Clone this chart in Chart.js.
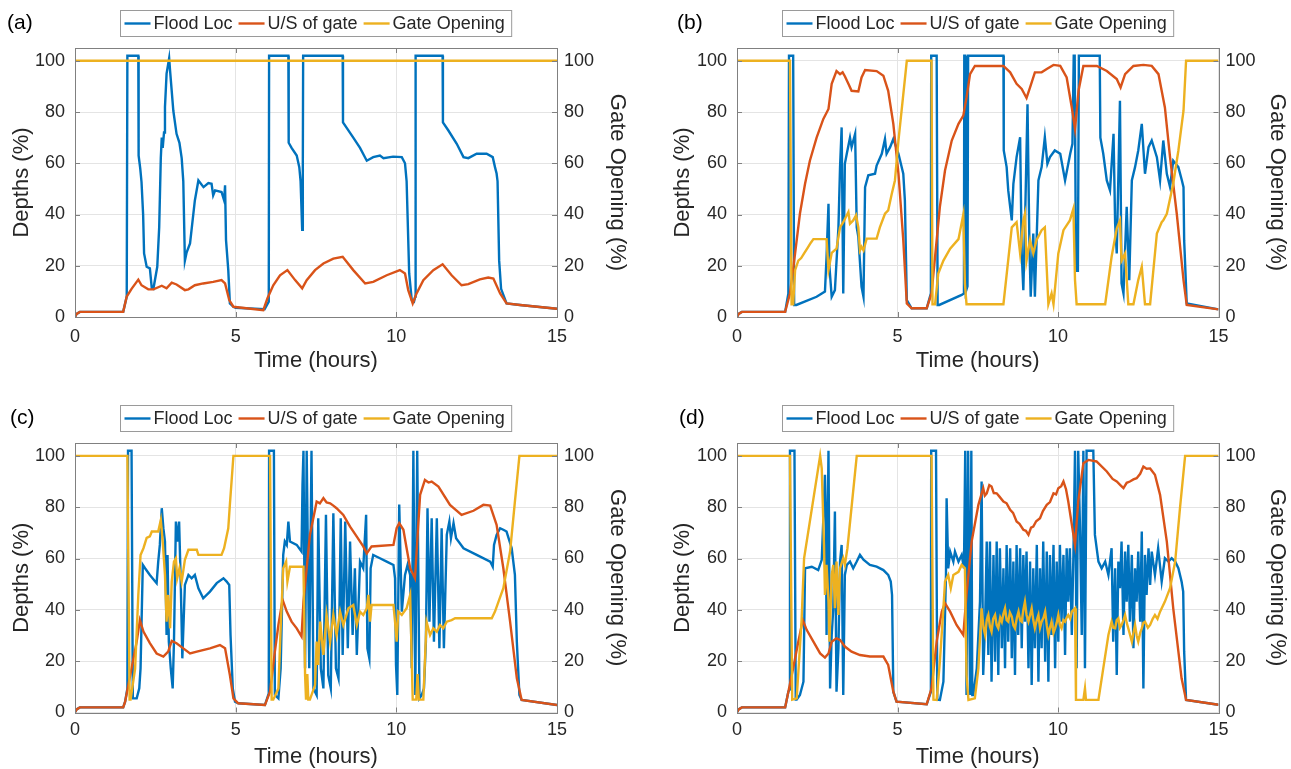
<!DOCTYPE html>
<html><head><meta charset="utf-8">
<script src="https://cdn.jsdelivr.net/npm/chart.js@4.4.0/dist/chart.umd.min.js"></script>
<style>
html,body{margin:0;padding:0;background:#fff;}
#wrap{position:relative;width:1291px;height:769px;overflow:hidden;background:#fff;}
canvas{position:absolute;display:block;}
</style></head><body>
<div id="wrap">
<canvas id="ca" width="645" height="390" style="left:0;top:0"></canvas>
<canvas id="cb" width="646" height="390" style="left:645px;top:0"></canvas>
<canvas id="cc" width="645" height="379" style="left:0;top:390px"></canvas>
<canvas id="cd" width="646" height="379" style="left:645px;top:390px"></canvas>
</div>
<script>
// ---------- tick labels / names ----------
const xTicks = [0, 5, 10, 15];
const yTicks = [0, 20, 40, 60, 80, 100];
const seriesNames = ['Flood Loc', 'U/S of gate', 'Gate Opening'];
const panelLabels = ['(a)', '(b)', '(c)', '(d)'];

// ---------- panel (a) ----------
const aFlood = [[0,0],[0.05,1.2],[0.15,2],[1.5,2],[1.61,8],[1.63,102],[1.97,102],[1.98,63],[2.03,58],[2.07,52.7],[2.12,40],[2.15,24.8],[2.23,19.6],[2.33,19],[2.39,11.2],[2.44,11],[2.56,19.6],[2.62,35],[2.67,62],[2.70,70],[2.73,66],[2.77,72],[2.80,82],[2.85,95],[2.93,101],[2.96,96],[3.06,80.5],[3.16,71.5],[3.25,68],[3.32,62],[3.37,53],[3.42,22],[3.47,25],[3.58,28.7],[3.73,45.5],[3.84,53.3],[4.0,50.7],[4.15,52.3],[4.25,52],[4.30,47.5],[4.36,49.4],[4.56,48.8],[4.64,45.5],[4.67,51.4],[4.70,30],[4.77,18.3],[4.82,5.3],[4.93,4],[5.0,3.6],[5.9,3],[6.03,6],[6.04,102],[6.64,102],[6.65,68],[6.74,66],[6.90,63],[6.98,58.5],[7.02,53],[7.07,34],[7.09,60],[7.10,102],[8.33,102],[8.34,76],[8.66,70],[8.87,66],[9.08,61],[9.28,62.4],[9.49,63],[9.6,62],[9.9,62.6],[10.17,62.4],[10.27,60],[10.32,53],[10.40,17],[10.48,6.6],[10.55,6],[10.59,8],[10.60,102],[11.44,102],[11.45,76],[11.62,72.8],[11.88,67.6],[12.09,62.4],[12.24,62],[12.5,63.7],[12.81,63.7],[13.0,62.4],[13.07,58.5],[13.12,56],[13.15,53],[13.2,22],[13.26,11],[13.43,5.3],[13.85,4.7],[15,3.2]];
const aUS = [[0,0],[0.05,1.2],[0.15,2],[1.5,2],[1.61,8],[1.76,11],[1.97,14.6],[2.07,12.4],[2.28,10.8],[2.44,10.8],[2.70,12.2],[2.85,11.2],[3.01,13.4],[3.16,12.7],[3.42,10.5],[3.53,10.8],[3.73,12.4],[3.99,13.1],[4.30,13.7],[4.56,14.4],[4.67,13.1],[4.80,6.6],[4.93,4],[5.86,2.7],[5.99,7.3],[6.17,12.4],[6.38,16.3],[6.61,18.3],[6.85,14.4],[7.07,11.2],[7.21,14.4],[7.47,18.3],[7.73,20.9],[8.04,22.8],[8.33,23.5],[8.66,18.3],[9.03,13.1],[9.28,13.7],[9.70,16.3],[10.11,18.3],[10.27,17],[10.37,10.5],[10.51,5.3],[10.63,9.2],[10.84,14.4],[11.15,18.3],[11.44,20.6],[11.72,16.3],[12.03,12.4],[12.24,12.8],[12.60,14.7],[12.86,15.4],[13.02,15],[13.23,9.2],[13.43,5.3],[13.85,4.7],[15,3.2]];
const aGate = [[0,100],[15,100]];

// ---------- panel (b) ----------
const bFlood = [[0,0],[0.05,1.2],[0.15,2],[1.5,2],[1.6,9.2],[1.62,102],[1.75,102],[1.78,4.7],[1.85,4.7],[2.48,7.9],[2.74,9.9],[2.79,23.5],[2.85,44.2],[2.88,19.6],[2.95,7.9],[3.05,10.5],[3.16,35],[3.21,58.5],[3.26,74],[3.31,9.2],[3.36,59.8],[3.42,63.7],[3.52,70],[3.57,66.3],[3.68,71.5],[3.73,35],[3.78,31.3],[3.88,11.8],[3.94,7.9],[3.99,50.7],[4.09,55.3],[4.30,55.9],[4.35,59.1],[4.51,63.7],[4.61,69.5],[4.66,63.7],[4.77,66.3],[4.87,69.5],[5.03,63.7],[5.18,55.9],[5.23,45.5],[5.29,6.6],[5.44,3.4],[5.91,3.4],[6.04,9.2],[6.05,102],[6.22,102],[6.25,4.7],[6.30,4.7],[7.0,8.6],[7.07,9.2],[7.08,102],[7.11,102],[7.13,10],[7.18,12],[7.2,102],[8.30,102],[8.31,65],[8.40,58.5],[8.45,49.4],[8.51,43],[8.56,37.7],[8.61,52],[8.71,62.4],[8.82,70.2],[8.87,24.8],[8.92,10.5],[8.97,35],[9.05,83],[9.11,27.4],[9.15,7.9],[9.23,32.6],[9.28,7.9],[9.39,53.3],[9.49,58.5],[9.59,70.2],[9.67,59.8],[9.75,62.4],[9.90,65],[10.07,63.7],[10.22,53.3],[10.38,63.7],[10.45,67.6],[10.49,102],[10.52,102],[10.56,18],[10.62,18],[10.65,102],[11.30,102],[11.32,70],[11.41,63.7],[11.52,53.3],[11.62,49.4],[11.73,71.5],[11.78,36.4],[11.83,24.8],[11.93,84.4],[11.98,13.1],[12.04,9.2],[12.14,43],[12.22,14.4],[12.30,53.3],[12.40,58.5],[12.50,65],[12.61,75.4],[12.71,55.9],[12.82,66.3],[12.92,68.9],[13.08,62.4],[13.18,53.3],[13.28,68.9],[13.39,55.9],[13.49,50.7],[13.59,61],[13.75,58.5],[13.86,53.3],[13.91,50.7],[13.93,30],[14.01,5.3],[15,3]];
const bUS = [[0,0],[0.05,1.2],[0.15,2],[1.5,2],[1.65,9.2],[1.81,24.8],[1.96,40.3],[2.12,52],[2.27,61],[2.48,70],[2.69,77.3],[2.85,81.2],[2.95,91],[3.1,96],[3.21,94.8],[3.29,95.5],[3.36,94],[3.47,91],[3.57,88.3],[3.78,88],[3.88,93.5],[3.99,96.4],[4.35,96],[4.56,94.2],[4.71,88.3],[4.87,75.4],[5.03,56],[5.18,30],[5.29,5.3],[5.44,3.4],[5.91,3.4],[6.06,9.2],[6.17,23.5],[6.32,43],[6.48,57.2],[6.69,68.9],[6.90,75.4],[7.05,78.6],[7.15,85.7],[7.26,94.8],[7.41,98],[8.30,98],[8.51,95.5],[8.71,91],[8.87,89],[9.02,85.5],[9.13,89.6],[9.28,95.5],[9.49,95.5],[9.65,96.8],[9.86,98.4],[10.07,98],[10.27,93.5],[10.43,81.8],[10.53,73.4],[10.64,88.3],[10.79,98],[11.21,98],[11.52,96],[11.83,92.9],[11.95,89.6],[12.09,94.8],[12.35,98],[12.66,98.4],[12.92,98],[13.13,94.8],[13.33,81.8],[13.49,62.4],[13.70,40.3],[13.91,14.4],[14.01,4.7],[15,3]];
const bGate = [[0,100],[1.65,100],[1.7,5],[1.75,5],[1.81,18.3],[1.91,22],[2.0,23],[2.1,25],[2.2,27],[2.3,29],[2.38,30.4],[2.79,30.4],[2.85,18.3],[2.95,25],[3.1,26.7],[3.21,35],[3.31,37],[3.47,41],[3.52,36.4],[3.62,37.7],[3.71,39.7],[3.78,35],[3.83,26],[3.88,27.4],[3.94,26],[4.04,30.6],[4.35,30.6],[4.45,35],[4.61,40.3],[4.71,41.6],[4.82,48],[4.92,53.3],[5.03,68.9],[5.29,100],[6.06,100],[6.09,5],[6.17,5],[6.27,17],[6.43,22],[6.64,26.7],[6.90,30.4],[7.05,40],[7.1,13],[7.15,5],[8.30,5],[8.56,35],[8.71,37],[8.82,24.8],[8.92,37.7],[8.97,40.3],[9.02,22],[9.13,30],[9.23,24.8],[9.33,30],[9.49,33.9],[9.59,35],[9.70,5],[9.80,9.2],[9.86,5],[10.01,24.8],[10.17,33.9],[10.37,37.7],[10.48,42.3],[10.53,14.4],[10.58,5],[11.47,5],[11.67,23.5],[11.83,34.5],[11.93,37.7],[11.98,22],[12.09,24.8],[12.19,5],[12.35,5],[12.50,14.4],[12.61,19.6],[12.71,5],[12.87,5],[13.08,32.6],[13.23,37],[13.28,37.7],[13.39,40.3],[13.59,52],[13.75,65],[13.91,80.5],[13.99,100],[15,100]];

// ---------- panel (c) ----------
const cFlood = [[0,0],[0.05,1.2],[0.15,2],[1.5,2],[1.56,4.2],[1.63,9.4],[1.65,102],[1.76,102],[1.8,5.5],[1.92,5.5],[2.0,9.4],[2.04,17.2],[2.11,57.5],[2.18,56.2],[2.33,53.6],[2.54,50.4],[2.59,58.8],[2.64,65.3],[2.70,79.6],[2.75,71.8],[2.80,66.6],[2.85,30.2],[2.88,61.4],[2.92,27.6],[2.98,17.2],[3.04,9.4],[3.08,27.6],[3.14,74.4],[3.18,66.6],[3.24,74.4],[3.29,51],[3.34,21.1],[3.42,49.7],[3.53,53.6],[3.63,52.3],[3.73,53.6],[3.84,48.4],[3.99,44.5],[4.20,47.1],[4.41,50.4],[4.62,52.3],[4.72,51],[4.80,49.7],[4.84,30.2],[4.91,9.4],[4.98,4.2],[5.08,3.6],[5.91,2.9],[6.03,7.5],[6.04,102],[6.19,102],[6.22,6.8],[6.33,5.5],[6.40,17.2],[6.48,61.4],[6.53,66.6],[6.59,65.3],[6.64,74.4],[6.69,66.6],[6.90,65.3],[7.05,62.7],[7.08,88.7],[7.11,102],[7.16,17.2],[7.21,102],[7.29,17.2],[7.36,102],[7.42,9.4],[7.52,6.8],[7.57,75.7],[7.65,17.2],[7.73,9.4],[7.81,77],[7.88,14.6],[7.96,9.4],[8.04,77.6],[8.12,17.2],[8.20,13.3],[8.27,75.7],[8.33,22.4],[8.41,74.4],[8.49,25],[8.56,66.6],[8.64,30.2],[8.71,56.2],[8.77,22.4],[8.87,58.8],[8.97,56.2],[9.06,77],[9.10,25],[9.16,21.1],[9.20,56.2],[9.28,61.4],[9.49,60.1],[9.70,58.8],[9.91,57.5],[9.96,52.3],[9.99,18.5],[10.03,6.8],[10.09,81],[10.17,39.3],[10.27,53.6],[10.35,57.5],[10.43,53.6],[10.48,17.2],[10.53,102],[10.59,6.8],[10.65,102],[10.72,5.5],[10.79,6.8],[10.86,9.4],[10.92,27.6],[10.97,79.6],[11.03,35.4],[11.10,75.7],[11.17,27.6],[11.26,75.7],[11.34,25],[11.41,71.8],[11.48,25],[11.57,69.2],[11.65,74.4],[11.70,67.9],[11.78,73.8],[11.86,67.9],[12.09,64],[12.50,61.4],[12.92,58.8],[13.0,56.8],[13.04,65.3],[13.12,69.2],[13.23,71.8],[13.33,71.2],[13.43,70.5],[13.59,64],[13.69,53.6],[13.75,27.6],[13.83,6.8],[13.90,4.9],[15,2.9]];
const cUS = [[0,0],[0.05,1.2],[0.15,2],[1.5,2],[1.56,4.2],[1.76,17.2],[1.92,27.6],[2.02,36],[2.13,31.5],[2.33,27],[2.54,23],[2.75,21.8],[2.90,23.7],[3.01,27.9],[3.16,27],[3.37,25],[3.58,23],[3.79,23.7],[4.20,25],[4.51,26.3],[4.67,25],[4.82,14.6],[4.93,5.5],[5.08,3.6],[5.91,2.9],[6.07,8.1],[6.22,23.7],[6.33,34.1],[6.46,43.9],[6.59,39.3],[6.74,35.4],[6.90,32.8],[7.05,29.6],[7.11,43.2],[7.31,69.2],[7.47,79],[7.52,82.2],[7.62,81.5],[7.73,83.5],[7.83,81.8],[7.94,81.5],[8.04,80.6],[8.14,79.6],[8.35,77],[8.56,72.4],[8.77,68.5],[8.97,64.7],[9.08,62],[9.23,64.7],[9.91,65.3],[10.01,71.8],[10.09,73.8],[10.22,71.2],[10.32,64],[10.43,56.2],[10.58,52.3],[10.74,84.8],[10.89,90.6],[11.0,89.6],[11.10,90],[11.31,88],[11.67,80.9],[12.03,77],[12.40,78.6],[12.71,80.9],[12.92,80.6],[13.12,73.1],[13.33,56.2],[13.54,35.4],[13.75,13.3],[13.90,4.9],[15,2.9]];
const cGate = [[0,100],[1.63,100],[1.7,5],[1.73,5],[1.87,17],[1.97,45.8],[2.04,61.4],[2.13,64],[2.23,68],[2.33,68.6],[2.39,70.5],[2.59,70.5],[2.67,75],[2.73,66.6],[2.80,53.6],[2.85,35.4],[2.90,45.8],[2.96,32.8],[3.01,51],[3.08,58.8],[3.14,60.1],[3.18,52.3],[3.25,56.2],[3.32,51],[3.42,59.5],[3.53,63.4],[3.79,63.4],[3.84,61.4],[4.56,61.4],[4.64,64],[4.77,71.8],[4.82,81],[4.93,100],[6.07,100],[6.12,5],[6.17,5],[6.33,9.4],[6.40,32.8],[6.48,56.2],[6.57,58.8],[6.61,51],[6.69,56.8],[7.11,56.8],[7.16,14.6],[7.19,5],[7.23,15],[7.26,5],[7.31,5],[7.47,10.7],[7.52,27.6],[7.57,18.5],[7.63,35.4],[7.73,22.4],[7.83,38],[7.94,27.6],[8.04,38],[8.14,30.2],[8.25,39.3],[8.35,34.1],[8.51,40.6],[8.66,41.9],[8.77,34.1],[8.87,39.3],[8.97,38],[9.08,40.6],[9.13,45.8],[9.18,35.4],[9.23,41.9],[9.91,41.9],[9.96,35.4],[10.01,27.6],[10.06,39.3],[10.17,38],[10.32,40.6],[10.43,45.8],[10.51,5],[10.62,5],[10.66,15],[10.70,5],[10.84,5],[10.94,35.4],[11.05,30.2],[11.15,32.8],[11.26,31.5],[11.36,34.1],[11.46,32.8],[11.57,35.4],[11.72,36],[11.83,36.7],[12.97,36.7],[13.07,39.3],[13.18,43.2],[13.33,48.4],[13.54,62.7],[13.69,82.2],[13.83,100],[15,100]];

// ---------- panel (d) ----------
const dFlood = [[0,0],[0.05,1.2],[0.15,2],[1.5,2],[1.60,8.1],[1.64,9],[1.65,102],[1.79,102],[1.83,5],[1.86,5],[1.96,6.8],[2.07,12],[2.12,56.2],[2.33,56.8],[2.53,55.5],[2.64,59.5],[2.69,75.7],[2.74,92.6],[2.77,74.4],[2.79,30.2],[2.85,102],[2.90,9.4],[2.95,30.2],[3.0,40.6],[3.05,78.3],[3.10,8.1],[3.16,25],[3.21,58.8],[3.26,65.3],[3.31,6.8],[3.36,53.6],[3.42,57.5],[3.52,58.8],[3.62,56.2],[3.73,58.8],[3.83,61.4],[3.94,59.5],[4.14,57.5],[4.35,56.8],[4.56,55.5],[4.71,53.6],[4.79,51],[4.83,45.8],[4.87,8.1],[4.97,4.2],[5.91,3.2],[6.04,8.1],[6.05,102],[6.20,102],[6.24,5],[6.32,4.9],[6.43,12],[6.51,53.6],[6.53,83.5],[6.58,56.2],[6.64,62.7],[6.74,58.8],[6.79,62.7],[6.90,58.8],[7.0,61.4],[7.07,56.2],[7.11,102],[7.15,6.8],[7.20,102],[7.26,6.8],[7.30,102],[7.33,6.8],[7.36,6.8],[7.47,17.2],[7.57,43.2],[7.62,90],[7.67,14.6],[7.73,35.4],[7.78,66.6],[7.83,22.4],[7.88,66.6],[7.93,12],[7.99,61.4],[8.04,19.8],[8.09,66.6],[8.14,14.6],[8.19,64],[8.25,25],[8.30,56.2],[8.35,17.2],[8.40,65.3],[8.45,27.6],[8.51,64],[8.56,21.1],[8.61,58.8],[8.66,14.6],[8.71,65.3],[8.76,30.2],[8.82,64],[8.87,25],[8.92,61.4],[8.97,35.4],[9.02,62.7],[9.08,17.2],[9.13,58.8],[9.18,10.7],[9.23,56.2],[9.28,25],[9.34,65.3],[9.39,12],[9.44,56.2],[9.49,25],[9.54,66.6],[9.60,19.8],[9.65,62.7],[9.70,12],[9.75,61.4],[9.80,30.2],[9.86,65.3],[9.91,17.2],[9.96,58.8],[10.01,27.6],[10.06,65.3],[10.11,35.4],[10.17,61.4],[10.22,22.4],[10.27,64],[10.32,43.2],[10.37,64],[10.43,30.2],[10.48,61.4],[10.53,102],[10.58,17.2],[10.63,102],[10.69,69.2],[10.74,30.2],[10.79,102],[10.84,17.2],[10.89,102],[11.10,102],[11.15,69.2],[11.26,58.8],[11.36,56.2],[11.47,58.8],[11.57,53.6],[11.67,64],[11.72,27.6],[11.78,56.2],[11.83,14.6],[11.88,58.8],[11.93,48.4],[11.98,66.6],[12.04,30.2],[12.09,62.7],[12.14,43.2],[12.19,65.3],[12.24,35.4],[12.30,61.4],[12.35,25],[12.40,56.2],[12.45,43.2],[12.50,62.7],[12.56,35.4],[12.61,70.5],[12.66,9.4],[12.71,61.4],[12.76,45.8],[12.82,64],[12.87,49.7],[12.92,62.7],[13.02,53.6],[13.12,64],[13.23,51],[13.33,60.1],[13.44,58.8],[13.54,60.1],[13.65,58.8],[13.75,56.2],[13.85,51],[13.90,47.1],[13.93,23.7],[13.99,4.9],[15,3]];
const dUS = [[0,0],[0.05,1.2],[0.15,2],[1.5,2],[1.60,8.1],[1.75,17.2],[1.91,27.6],[2.05,36],[2.17,32.2],[2.38,27.6],[2.59,23],[2.74,21.4],[2.85,23],[2.95,27.6],[3.10,28.9],[3.21,28.3],[3.36,25.7],[3.57,23.7],[3.83,22.4],[4.14,21.8],[4.56,21.8],[4.71,18.5],[4.87,8.1],[4.97,4.2],[5.91,3.2],[6.06,9.4],[6.22,27.6],[6.38,39.3],[6.48,42.6],[6.64,39.3],[6.84,34.1],[7.05,30.2],[7.15,45.8],[7.31,66.6],[7.52,80.9],[7.67,87.4],[7.72,84.5],[7.78,85.4],[7.86,88.6],[7.93,88],[8.0,85.5],[8.09,85.4],[8.17,84.2],[8.30,82.2],[8.40,81.5],[8.51,79],[8.60,77.8],[8.71,74.4],[8.80,73.5],[8.92,71.2],[9.00,70.8],[9.08,69.2],[9.16,72],[9.23,72.4],[9.32,74.5],[9.44,75.7],[9.53,78.5],[9.65,80.9],[9.75,82],[9.86,85.4],[9.94,85],[10.01,87.4],[10.10,88.2],[10.17,90],[10.25,87],[10.32,82.2],[10.48,69.2],[10.53,65.3],[10.63,82.2],[10.79,97.1],[10.95,98.4],[11.20,97.8],[11.52,93.9],[11.70,91],[11.83,90],[11.95,88.5],[12.04,87.4],[12.14,89.5],[12.24,90],[12.35,90.8],[12.45,91.3],[12.56,93],[12.66,95.8],[12.76,95],[12.87,95.1],[13.02,92.6],[13.18,84.8],[13.39,66.6],[13.59,40.6],[13.85,13.3],[13.99,4.9],[15,3]];
const dGate = [[0,100],[1.65,100],[1.72,5],[1.86,5.5],[2.01,35.4],[2.09,60.1],[2.59,100],[2.64,95.1],[2.71,65.3],[2.74,45.8],[2.79,57.5],[2.85,43.2],[2.88,27.6],[2.95,53.6],[3.0,57.5],[3.05,40.6],[3.10,58.8],[3.16,38],[3.21,56.2],[3.31,60.1],[3.36,57.5],[3.44,64],[3.73,100],[6.06,100],[6.12,5],[6.22,4.9],[6.32,19.8],[6.43,40.6],[6.48,51],[6.58,53.6],[6.66,48.4],[6.74,53.6],[6.90,54.8],[7.0,57.5],[7.10,56.2],[7.15,14.6],[7.21,4.9],[7.41,5.5],[7.52,17.2],[7.62,40.6],[7.68,33],[7.73,30.2],[7.78,36],[7.83,38],[7.88,33.5],[7.93,31.5],[7.98,36.5],[8.04,38],[8.09,34],[8.14,32.8],[8.20,37],[8.25,35.4],[8.30,38.5],[8.35,40.6],[8.40,36],[8.45,35.4],[8.50,39],[8.56,37.4],[8.61,34],[8.66,32.8],[8.72,37],[8.77,39.3],[8.82,36],[8.87,35.4],[8.92,40],[8.97,43.2],[9.02,38],[9.08,35.4],[9.13,38],[9.18,40.6],[9.23,36],[9.28,32.8],[9.34,36],[9.39,38],[9.44,33],[9.49,35.4],[9.55,37],[9.60,39.3],[9.65,34],[9.70,30.2],[9.75,33],[9.80,35.4],[9.86,31],[9.91,32.8],[9.96,35],[10.01,38],[10.06,34],[10.11,32.8],[10.17,36],[10.22,35.4],[10.27,37],[10.32,38],[10.38,36.5],[10.43,39.3],[10.53,40.6],[10.56,4.9],[10.79,4.9],[10.84,9.4],[10.87,4.9],[11.26,4.9],[11.41,17.2],[11.57,30.2],[11.67,35.4],[11.72,33],[11.78,32.8],[11.83,36],[11.88,36.7],[11.93,33],[11.98,34.1],[12.04,36],[12.09,38],[12.14,35],[12.19,32.8],[12.25,30],[12.30,27.6],[12.35,31],[12.40,34.1],[12.45,30],[12.50,27.6],[12.56,31],[12.61,32.8],[12.66,35],[12.71,35.4],[12.80,33],[12.87,34.1],[12.95,36.5],[13.02,38],[13.10,36.5],[13.18,39.3],[13.33,43.2],[13.49,48.4],[13.65,58.8],[13.80,79.6],[13.96,100],[15,100]];

// ---------- rendering ----------
const COLORS = ['#0072BD', '#D95319', '#EDB120'];
const FONT = "'Liberation Sans', Arial, Helvetica, sans-serif";
const TXT = '#262626';
const GRID = '#e4e4e4';
const FRAME = '#808080';
const LW = 2.4;
const toXY = arr => arr.map(p => ({x: p[0], y: p[1]}));

function makePanel(id, label, labelX, flood, us, gate, geo) {
  const canvas = document.getElementById(id);
  const W = canvas.width, H = canvas.height;
  const decor = {
    id: 'decor_' + id,
    afterDraw(chart) {
      const ctx = chart.ctx;
      const {left, right, top, bottom} = chart.chartArea;
      const xs = chart.scales.x, ys = chart.scales.y;
      ctx.save();
      ctx.strokeStyle = FRAME; ctx.lineWidth = 1;
      ctx.beginPath();
      yTicks.forEach(v => {
        const py = Math.round(ys.getPixelForValue(v)) + 0.5;
        ctx.moveTo(left, py); ctx.lineTo(left + 5, py);
        ctx.moveTo(right, py); ctx.lineTo(right - 5, py);
      });
      xTicks.forEach(v => {
        const px = Math.round(xs.getPixelForValue(v)) + 0.5;
        ctx.moveTo(px, bottom); ctx.lineTo(px, bottom - 5);
        ctx.moveTo(px, top); ctx.lineTo(px, top + 5);
      });
      ctx.stroke();
      ctx.strokeRect(Math.round(left) + 0.5, Math.round(top) + 0.5, Math.round(right - left), Math.round(bottom - top));
      // legend
      ctx.font = '18px ' + FONT;
      const items = chart.data.datasets.map(d => ({text: d.label, color: d.borderColor, w: ctx.measureText(d.label).width}));
      const padL = 4, lineL = 26, gapLT = 3, gapItem = 6, padR = 7;
      let boxW = padL + padR + gapItem * (items.length - 1);
      items.forEach(it => boxW += lineL + gapLT + it.w);
      const bx = Math.round((left + right) / 2 - boxW / 2) + 0.5;
      const by = Math.round(top - 38) + 0.5;
      const bh = 26;
      ctx.fillStyle = '#fff';
      ctx.fillRect(bx, by, boxW, bh);
      ctx.strokeStyle = '#9a9a9a';
      ctx.strokeRect(bx, by, boxW, bh);
      let cx = bx + padL;
      const cy = by + bh / 2;
      ctx.textBaseline = 'middle'; ctx.textAlign = 'left';
      items.forEach(it => {
        ctx.strokeStyle = it.color; ctx.lineWidth = LW;
        ctx.beginPath(); ctx.moveTo(cx, cy); ctx.lineTo(cx + lineL, cy); ctx.stroke();
        cx += lineL + gapLT;
        ctx.fillStyle = TXT;
        ctx.fillText(it.text, cx, cy + 1);
        cx += it.w + gapItem;
      });
      ctx.font = '21px ' + FONT;
      ctx.fillStyle = '#000';
      ctx.fillText(label, labelX, top - 25);
      ctx.restore();
    }
  };
  const lineDS = (name, data, color, axis, order) => ({
    label: name, data: toXY(data), yAxisID: axis, borderColor: color, backgroundColor: color,
    borderWidth: LW, pointRadius: 0, tension: 0, fill: false, order: order
  });
  const tickFont = {family: FONT, size: 18};
  const titleFont = {family: FONT, size: 22, lineHeight: 1};
  new Chart(canvas, {
    type: 'line',
    data: {datasets: [
      lineDS(seriesNames[0], flood, COLORS[0], 'y', 3),
      lineDS(seriesNames[1], us, COLORS[1], 'y', 2),
      lineDS(seriesNames[2], gate, COLORS[2], 'y2', 1)
    ]},
    options: {
      responsive: false, animation: false, devicePixelRatio: 1,
      layout: {padding: {top: geo.top, left: 0, right: 0, bottom: 0}},
      plugins: {legend: {display: false}, tooltip: {enabled: false}, title: {display: false}},
      scales: {
        x: {
          type: 'linear', position: 'bottom', min: 0, max: 15,
          afterBuildTicks: s => { s.ticks = xTicks.map(v => ({value: v})); },
          afterFit: s => { s.height = H - geo.bottom; },
          ticks: {font: tickFont, color: TXT, padding: geo.xtp, maxRotation: 0, autoSkip: false},
          grid: {color: GRID, drawTicks: false},
          border: {display: false},
          title: {display: true, text: 'Time (hours)', font: titleFont, color: TXT, padding: {top: 0, bottom: geo.xtb}}
        },
        y: {
          type: 'linear', position: 'left', min: 0, max: 105,
          afterBuildTicks: s => { s.ticks = yTicks.map(v => ({value: v})); },
          afterFit: s => { s.width = geo.left; },
          ticks: {font: tickFont, color: TXT, padding: 10, autoSkip: false},
          grid: {color: GRID, drawTicks: false},
          border: {display: false},
          title: {display: true, text: 'Depths (%)', font: titleFont, color: TXT, padding: {top: geo.ylt, bottom: 0}}
        },
        y2: {
          type: 'linear', position: 'right', min: 0, max: 105,
          afterBuildTicks: s => { s.ticks = yTicks.map(v => ({value: v})); },
          afterFit: s => { s.width = W - geo.right; },
          ticks: {font: tickFont, color: TXT, padding: 7, autoSkip: false},
          grid: {display: false, drawTicks: false},
          border: {display: false},
          title: {display: true, text: 'Gate Opening (%)', font: titleFont, color: TXT, padding: {top: geo.yrt, bottom: 0}}
        }
      }
    },
    plugins: [decor]
  });
}

makePanel('ca', panelLabels[0], 7, aFlood, aUS, aGate, {left: 75, right: 557, top: 48, bottom: 317, xtp: 9, xtb: 18, ylt: 11, yrt: 17});
makePanel('cb', panelLabels[1], 32, bFlood, bUS, bGate, {left: 92, right: 573.5, top: 48, bottom: 317, xtp: 9, xtb: 18, ylt: 27, yrt: 3});
makePanel('cc', panelLabels[2], 10, cFlood, cUS, cGate, {left: 75, right: 557, top: 53, bottom: 322.5, xtp: 7, xtb: 1, ylt: 11, yrt: 17});
makePanel('cd', panelLabels[3], 34, dFlood, dUS, dGate, {left: 92, right: 573.5, top: 53, bottom: 322.5, xtp: 7, xtb: 1, ylt: 27, yrt: 3});
</script>
</body></html>
